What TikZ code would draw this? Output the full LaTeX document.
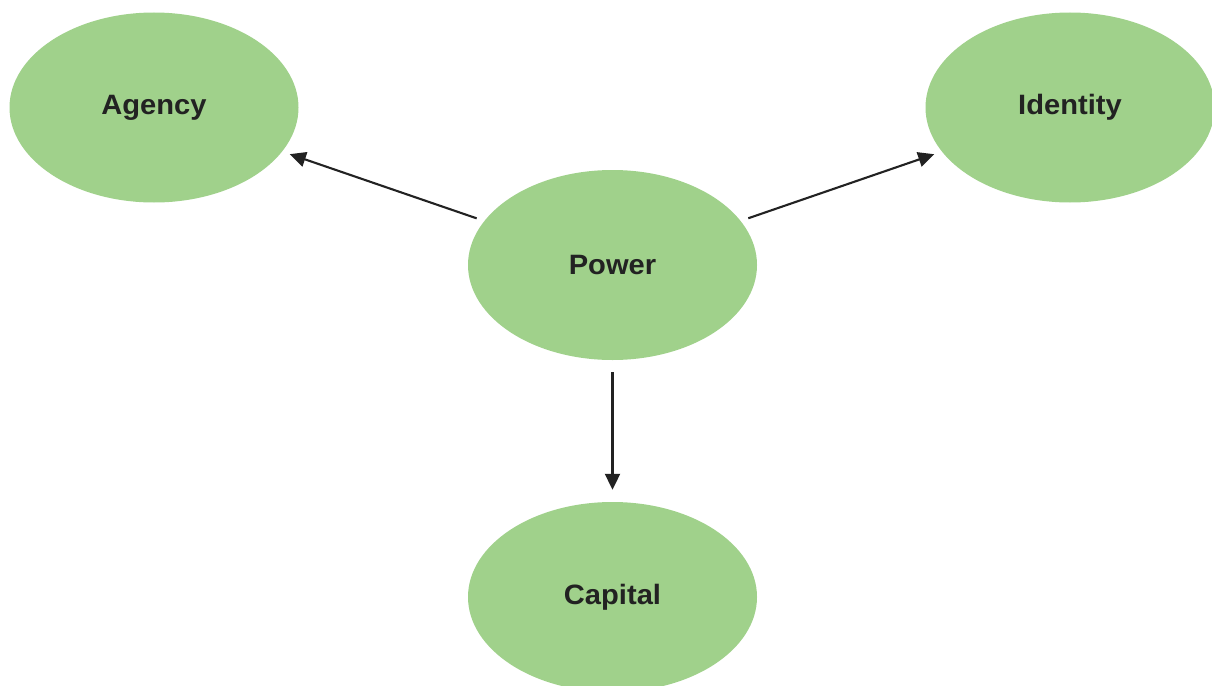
\documentclass[tikz,border=0pt]{standalone}
\usepackage{fontspec}
\setmainfont{Liberation Sans}[FakeStretch=1.04]
\usetikzlibrary{shapes.geometric,arrows.meta}
\definecolor{leaf}{HTML}{A0D18B}
\definecolor{ink}{HTML}{222222}
\begin{document}
\begin{tikzpicture}[x=1pt,y=-1pt,
  bubble/.style={ellipse,fill=leaf,draw=none,minimum width=289pt,minimum height=190pt,
    inner sep=0pt,text=ink,font=\fontsize{28}{32}\selectfont\bfseries},
  link/.style={draw=ink,line width=2.1pt,-{Triangle[length=16pt,width=15pt]}}]
\useasboundingbox (0,0) rectangle (1212,685);
\node[bubble] (agency)   at (154,107.5) {Agency};
\node[bubble] (identity) at (1070,107.5) {Identity};
\node[bubble] (power)    at (612.5,265) {Power};
\node[bubble] (capital)  at (612.5,597) {Capital};
\draw[link,shorten <=8pt,shorten >=8pt] (power) -- (agency);
\draw[link,shorten <=8pt,shorten >=8pt] (power) -- (identity);
\draw[link,shorten <=12pt,shorten >=12pt] (power) -- (capital);
\end{tikzpicture}
\end{document}
